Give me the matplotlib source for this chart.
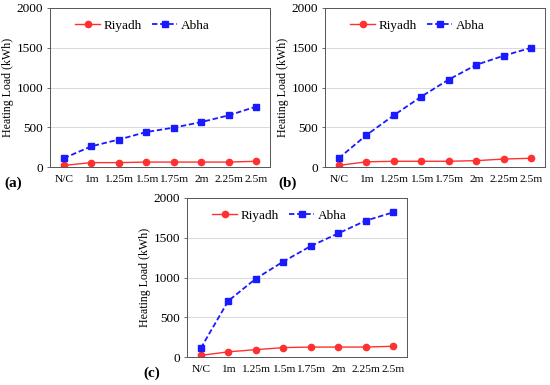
import matplotlib
matplotlib.use("Agg")
import matplotlib.pyplot as plt

categories = ["N/C", "1m", "1.25m", "1.5m", "1.75m", "2m", "2.25m", "2.5m"]
riyadh_a = [20, 55, 55, 62, 62, 62, 62, 72]
abha_a = [110, 260, 345, 440, 495, 565, 650, 760]
riyadh_b = [20, 65, 72, 72, 72, 80, 100, 110]
abha_b = [110, 400, 650, 885, 1100, 1285, 1400, 1500]
riyadh_c = [20, 65, 92, 118, 125, 125, 125, 135]
abha_c = [110, 705, 985, 1200, 1395, 1555, 1715, 1820]
panel_labels = ["(a)", "(b)", "(c)"]
yticks = [0, 500, 1000, 1500, 2000]

plt.rcParams['font.family'] = ['Liberation Serif', 'DejaVu Serif']

fig = plt.figure(figsize=(5.5, 3.85), dpi=100)
W, H = 550, 385
boxes = [(50, 8, 270, 167), (325, 8, 545, 167), (187, 198, 407, 357)]
label_pos = [(4, 183), (278, 183), (143, 373)]
data = [(riyadh_a, abha_a), (riyadh_b, abha_b), (riyadh_c, abha_c)]

for (x0, y0, x1, y1), (r, a), lab, (lx, ly) in zip(boxes, data, panel_labels, label_pos):
    ax = fig.add_axes([x0 / W, 1 - y1 / H, (x1 - x0) / W, (y1 - y0) / H])
    x = list(range(len(categories)))
    ax.plot(x, r, color="#ff3030", marker="o", markersize=4.5, lw=1.0, label="Riyadh")
    ax.plot(x, a, color="#1a1aff", marker="s", markersize=4.5, lw=1.3, ls=(0, (3, 1.5)), label="Abha")
    ax.set_xlim(-0.5, len(categories) - 0.5)
    ax.set_ylim(0, 2000)
    ax.set_yticks(yticks)
    ax.set_xticks(x)
    ax.set_xticklabels(categories)
    ax.tick_params(axis="y", labelsize=9.5, length=2, width=0.6, color="#555555", pad=3)
    ax.tick_params(axis="x", labelsize=8.2, length=0, pad=6)
    ax.yaxis.grid(True, color="#d9d9d9", lw=0.7)
    ax.set_axisbelow(True)
    for s in ax.spines.values():
        s.set_color("#555555")
        s.set_linewidth(0.7)
    ax.set_ylabel("Heating Load (kWh)", fontsize=8.6)
    ax.yaxis.set_label_coords(-36 / (x1 - x0), 0.5)
    ax.legend(loc="upper center", ncol=2, frameon=False, fontsize=9.5,
              handlelength=1.9, handletextpad=0.25, columnspacing=0.8,
              bbox_to_anchor=(0.42, 1.0))
    fig.text(lx / W, 1 - ly / H, lab, fontsize=11, fontweight="bold", va="center", ha="left")

fig.savefig("out.png", dpi=100)
